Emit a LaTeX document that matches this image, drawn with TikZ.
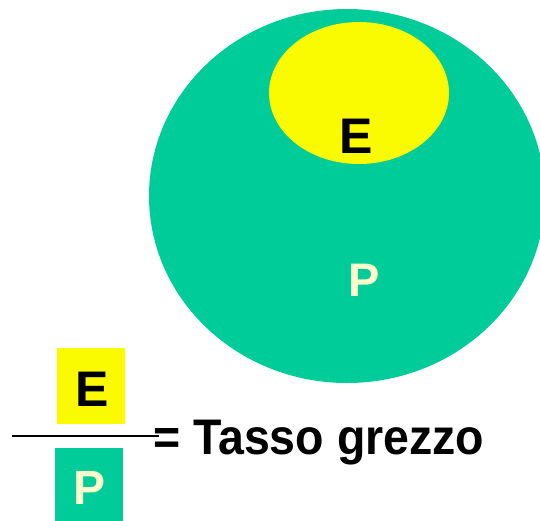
\documentclass[tikz,border=0pt]{standalone}
\usepackage{fontspec}
\setmainfont{Liberation Sans}
\newfontfamily\narrowbold[FakeStretch=0.93]{Liberation Sans}
\usetikzlibrary{shapes.geometric}
\definecolor{popgreen}{RGB}{0,204,153}
\definecolor{evyellow}{RGB}{250,250,0}
\definecolor{paleletter}{RGB}{255,255,204}
\tikzset{
  blob/.style={ellipse, draw=none, inner sep=0pt},
  letter/.style={inner sep=0pt, anchor=base, font=\bfseries\fontsize{50}{60}\selectfont},
  swatch/.style={draw=none, inner sep=0pt, anchor=north west}
}
\begin{document}
\begin{tikzpicture}[x=1pt,y=-1pt]
  \useasboundingbox (0,0) rectangle (540,520);
  % population and event sets
  \node[blob, fill=popgreen, minimum width=396pt, minimum height=374pt] (pop) at (347,196) {};
  \node[blob, fill=evyellow, minimum width=180pt, minimum height=142pt] (ev) at (359,93) {};
  \node[letter] (evlabel) at (356,153) {E};
  \node[letter, text=paleletter, font=\bfseries\fontsize{47}{56}\selectfont] (poplabel) at (364.5,296) {P};
  % the ratio E / P
  \fill[evyellow] (57,348) rectangle (125,424);
  \fill[popgreen] (55,448) rectangle (123,522);
  \node[letter] (num) at (92,406) {E};
  \node[letter, text=paleletter, font=\bfseries\fontsize{48}{56}\selectfont] (den) at (90,504) {P};
  \coordinate (barstart) at (12,436);
  \node[inner sep=0pt, anchor=base west, font=\narrowbold\bfseries\fontsize{50}{60}\selectfont] (rate) at (153,454) {= Tasso grezzo};
  \draw[line width=1.6pt] (barstart) -- (rate.west |- barstart) -- ++(6,0);
\end{tikzpicture}
\end{document}
